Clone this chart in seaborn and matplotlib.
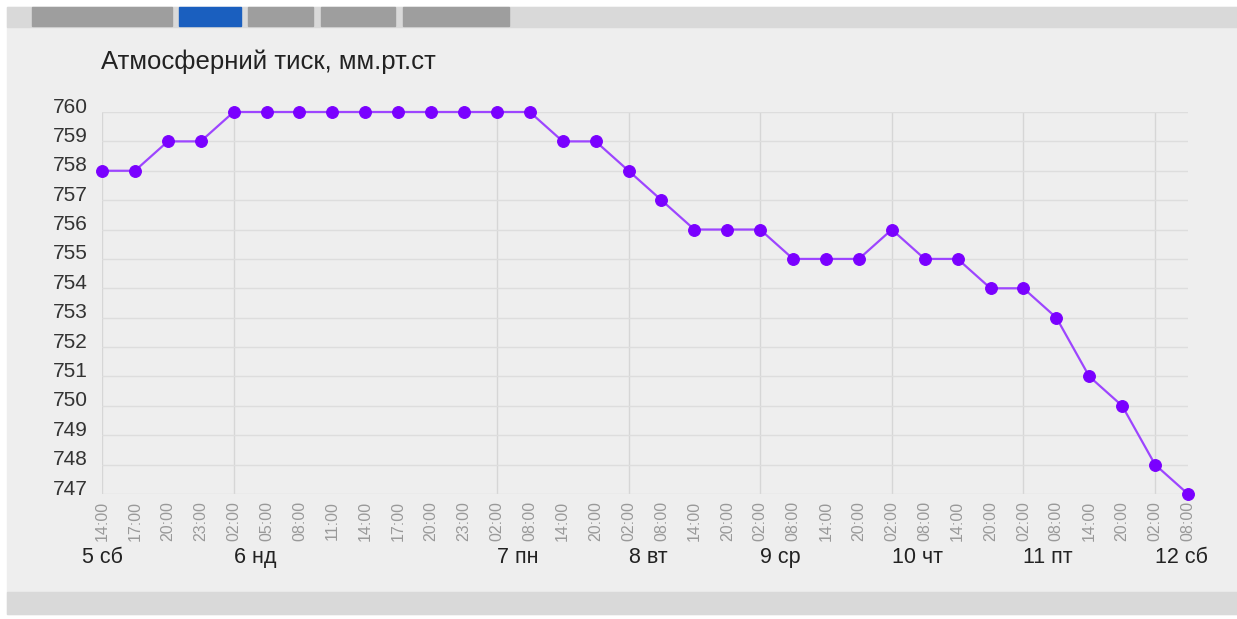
import numpy as np
import pandas as pd
import matplotlib
matplotlib.use("Agg")
import matplotlib.pyplot as plt
import matplotlib.transforms as mtransforms
from matplotlib.patches import Rectangle
import seaborn as sns

# ---- data ----
hours = ["14:00", "17:00", "20:00", "23:00", "02:00", "05:00", "08:00", "11:00",
         "14:00", "17:00", "20:00", "23:00", "02:00", "08:00", "14:00", "20:00",
         "02:00", "08:00", "14:00", "20:00", "02:00", "08:00", "14:00", "20:00",
         "02:00", "08:00", "14:00", "20:00", "02:00", "08:00", "14:00", "20:00",
         "02:00", "08:00"]
pressure = [758, 758, 759, 759, 760, 760, 760, 760, 760, 760, 760, 760, 760, 760,
            759, 759, 758, 757, 756, 756, 756, 755, 755, 755, 756, 755, 755, 754,
            754, 753, 751, 750, 748, 747]
day_labels = ["5 сб", "6 нд", "7 пн", "8 вт", "9 ср", "10 чт", "11 пт", "12 сб"]
day_index = [0, 4, 12, 16, 20, 24, 28, 32]
y_ticks = list(range(747, 761))
title = "Атмосферний тиск, мм.рт.ст"

sns.set_theme(style="white")
plt.rcParams["font.family"] = ["Liberation Sans", "DejaVu Sans"]

W, H = 1237, 619
fig = plt.figure(figsize=(W / 100, H / 100), dpi=100, facecolor="white")

def fx(px):
    return px / W

def fy(py):
    return 1 - py / H

# background panel and bands
fig.add_artist(Rectangle((fx(7), fy(614)), fx(W - 7), (614 - 7) / H,
                         transform=fig.transFigure, color="#eeeeee", zorder=0))
fig.add_artist(Rectangle((fx(7), fy(27)), fx(W - 7), 20 / H,
                         transform=fig.transFigure, color="#d9d9d9", zorder=0))
fig.add_artist(Rectangle((fx(7), fy(614)), fx(W - 7), 22 / H,
                         transform=fig.transFigure, color="#d9d9d9", zorder=0))
tabs = [(32, 172, "#9e9e9e"), (179, 241, "#1a5fbf"), (248, 313, "#9e9e9e"),
        (321, 395, "#9e9e9e"), (403, 509, "#9e9e9e")]
for x0, x1, c in tabs:
    fig.add_artist(Rectangle((fx(x0), fy(26)), fx(x1 - x0), 19 / H,
                             transform=fig.transFigure, color=c, zorder=1))

# axes
ax = fig.add_axes([fx(102), fy(494), fx(1188 - 102), (494 - 112) / H])
ax.set_facecolor("none")

df = pd.DataFrame({"i": np.arange(len(pressure)), "p": pressure})
sns.lineplot(data=df, x="i", y="p", ax=ax, color="#9d45ff", linewidth=1.6,
             marker="o", markersize=8.5, markerfacecolor="#7a00ff",
             markeredgecolor="#7a00ff", clip_on=False, zorder=5)

ax.set_xlim(0, len(pressure) - 1)
ax.set_ylim(747, 760)
for s in ax.spines.values():
    s.set_visible(False)

ax.set_yticks(y_ticks)
ax.set_yticklabels([str(v) for v in y_ticks], fontsize=15, color="#333333")
ax.tick_params(axis="y", length=0, pad=10)
offset = mtransforms.ScaledTranslation(0, 5 / 72, fig.dpi_scale_trans)
for lab in ax.get_yticklabels():
    lab.set_transform(lab.get_transform() + offset)
ax.grid(axis="y", color="#dddddd", linewidth=1)

ax.xaxis.remove_overlapping_locs = False
ax.set_xticks(np.arange(len(hours)))
ax.set_xticklabels(hours, rotation=90, fontsize=11.5, color="#999999", va="top")
ax.tick_params(axis="x", which="major", length=0, pad=5)
ax.set_xticks(day_index, minor=True)
ax.tick_params(axis="x", which="minor", length=10, color="#d6d6d6", width=1)
ax.grid(axis="x", which="minor", color="#d6d6d6", linewidth=1)
ax.grid(axis="x", which="major", visible=False)
ax.set_xlabel("")
ax.set_ylabel("")

trans = mtransforms.blended_transform_factory(ax.transData, ax.transAxes)
for k, (lab, idx) in enumerate(zip(day_labels, day_index)):
    ax.text(idx, -0.165, lab, transform=trans, fontsize=15.5, color="#222222",
            ha="center" if k == 0 else "left", va="center")

fig.text(fx(101), fy(62), title, fontsize=18.5, color="#222222",
         ha="left", va="center")

fig.savefig("out.png", dpi=100, facecolor="white")
